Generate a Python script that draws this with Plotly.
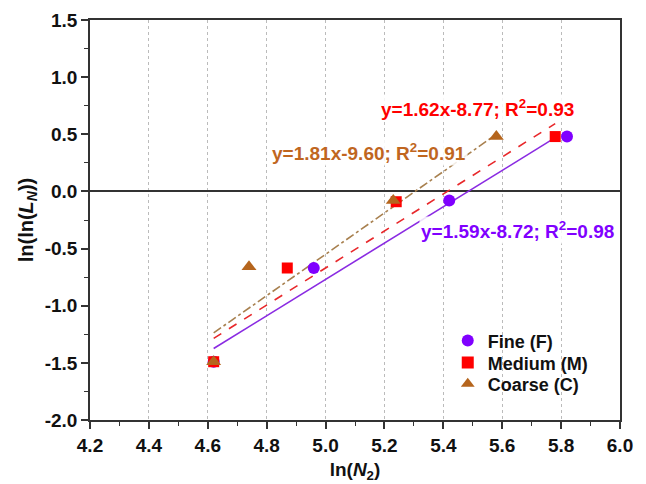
import plotly.graph_objects as go

# ---- data ----
series_names = ["Fine (F)", "Medium (M)", "Coarse (C)"]
fine_x = [4.62, 4.96, 5.42, 5.82]
fine_y = [-1.49, -0.67, -0.08, 0.48]
medium_x = [4.62, 4.87, 5.24, 5.78]
medium_y = [-1.49, -0.67, -0.09, 0.48]
coarse_x = [4.62, 4.74, 5.23, 5.58]
coarse_y = [-1.49, -0.66, -0.08, 0.48]

fit_slopes = [1.59, 1.62, 1.81]
fit_intercepts = [-8.72, -8.77, -9.60]
fit_r2 = [0.98, 0.93, 0.91]
fit_x_start = [4.62, 4.62, 4.62]
fit_x_end = [5.78, 5.78, 5.58]

label_x = [5.652, 5.516, 5.146]
label_y = [-0.337, 0.73, 0.347]

x_ticks = [4.2, 4.4, 4.6, 4.8, 5.0, 5.2, 5.4, 5.6, 5.8, 6.0]
y_ticks = [-2.0, -1.5, -1.0, -0.5, 0.0, 0.5, 1.0, 1.5]
y_tick_labels = ["-2.0", "-1.5", "-1.0", "-0.5", "0.0", "0.5", "1.0", "1.5"]

# ---- styles ----
marker_colors = ["#8000FF", "#FF0000", "#B5651D"]
marker_symbols = ["circle", "square", "triangle-up"]
marker_sizes = [12, 11, 13]
line_colors = ["#8A2BE2", "#E8282B", "#A8804F"]
line_dashes = ["solid", "dash", "dashdot"]
text_colors = ["#8000FF", "#FF0000", "#C0661F"]
legend_ids = ["legend", "legend2", "legend3"]
legend_ys = [0.244, 0.189, 0.136]

FONT = "Arial, Liberation Sans, sans-serif"

fig = go.Figure()

xs = [fine_x, medium_x, coarse_x]
ys = [fine_y, medium_y, coarse_y]

# fit lines
for i in range(3):
    lx = [fit_x_start[i], fit_x_end[i]]
    ly = [fit_slopes[i] * v + fit_intercepts[i] for v in lx]
    fig.add_trace(go.Scatter(
        x=lx, y=ly, mode="lines", showlegend=False, hoverinfo="skip",
        line=dict(color=line_colors[i], width=1.6, dash=line_dashes[i]),
    ))

# markers
for i in range(3):
    fig.add_trace(go.Scatter(
        x=xs[i], y=ys[i], mode="markers", name=series_names[i],
        legend=legend_ids[i],
        marker=dict(color=marker_colors[i], symbol=marker_symbols[i],
                    size=marker_sizes[i], line=dict(width=0)),
    ))

# equation labels
for i in range(3):
    sign = "-" if fit_intercepts[i] < 0 else "+"
    txt = "y=%.2fx%s%.2f; R<sup>2</sup>=%.2f" % (
        fit_slopes[i], sign, abs(fit_intercepts[i]), fit_r2[i])
    fig.add_annotation(
        x=label_x[i], y=label_y[i], text=txt, showarrow=False,
        xanchor="center", yanchor="middle",
        font=dict(family=FONT, size=19, color=text_colors[i], weight="bold"),
        bgcolor="rgba(255,255,255,0.85)",
    )

fig.update_xaxes(
    range=[4.2, 6.0], tickvals=x_ticks, tickformat=".1f",
    showline=True, linecolor="#333333", linewidth=1.5, mirror=True,
    ticks="outside", ticklen=7, tickwidth=1.5, tickcolor="#333333",
    minor=dict(dtick=0.1, ticks="outside", ticklen=4, tickwidth=1.2,
               tickcolor="#333333", showgrid=False),
    showgrid=True, gridcolor="#BBBBBB", griddash="dot", gridwidth=1,
    zeroline=False, automargin=False,
    tickfont=dict(family=FONT, size=19, color="#111111", weight="bold"),
    title=dict(text="ln(<i>N</i><sub>2</sub>)", standoff=8,
               font=dict(family=FONT, size=19, color="#111111", weight="bold")),
)
fig.update_yaxes(
    range=[-2.0, 1.5], tickvals=y_ticks, ticktext=y_tick_labels,
    showline=True, linecolor="#333333", linewidth=1.5, mirror=True,
    ticks="outside", ticklen=7, tickwidth=1.5, tickcolor="#333333",
    minor=dict(dtick=0.25, ticks="outside", ticklen=4, tickwidth=1.2,
               tickcolor="#333333", showgrid=False),
    showgrid=False, automargin=False,
    zeroline=True, zerolinecolor="#333333", zerolinewidth=1.5,
    tickfont=dict(family=FONT, size=19, color="#111111", weight="bold"),
    title=dict(text="ln(ln(<i>L<sub>N</sub></i>))", standoff=6,
               font=dict(family=FONT, size=20, color="#111111", weight="bold")),
)

legend_common = dict(
    x=0.675, xanchor="left", yanchor="top",
    bgcolor="rgba(0,0,0,0)", borderwidth=0,
    font=dict(family=FONT, size=18, color="#111111", weight="bold"),
    itemsizing="constant",
)

fig.update_layout(
    width=638, height=476,
    margin=dict(l=82, r=26, t=12, b=64, autoexpand=False),
    paper_bgcolor="white", plot_bgcolor="white",
    showlegend=True,
    legend=dict(y=legend_ys[0], **legend_common),
    legend2=dict(y=legend_ys[1], **legend_common),
    legend3=dict(y=legend_ys[2], **legend_common),
)

fig.write_html("out.html")
